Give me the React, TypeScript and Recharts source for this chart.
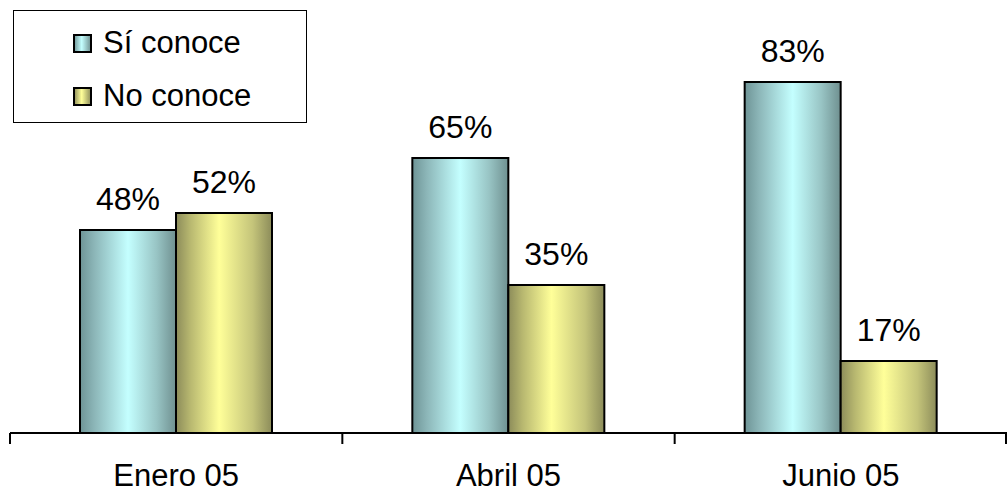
import { BarChart, Bar, XAxis, YAxis, LabelList } from "recharts";

const categories = ["Enero 05", "Abril 05", "Junio 05"];
const siConoce = [48, 65, 83];
const noConoce = [52, 35, 17];

const data = categories.map((name, i) => ({ name, si: siConoce[i], no: noConoce[i] }));

const FONT = "'Liberation Sans', Arial, sans-serif";

// category ticks: label under the center, tick marks at the band edges
const CategoryTick = (props: any) => {
    const { x, payload, index, visibleTicksCount } = props;
    const half = payload?.offset ?? 166;
    const count = visibleTicksCount ?? categories.length;
    const axisY = 433;
    return (
        <g>
            <line x1={x - half} y1={axisY} x2={x - half} y2={axisY + 11} stroke="#000" strokeWidth={2} />
            {index === count - 1 && (
                <line x1={x + half - 1} y1={axisY} x2={x + half - 1} y2={axisY + 11} stroke="#000" strokeWidth={2} />
            )}
            <text x={x} y={axisY + 53} textAnchor="middle" fontSize={31} fontFamily={FONT} fill="#000">
                {payload.value}
            </text>
        </g>
    );
};

const legendItems = [
    { label: "Sí conoce", fill: "url(#gCyanSm)", top: 17 },
    { label: "No conoce", fill: "url(#gYellowSm)", top: 70 },
];

const LegendBox = () => (
    <div
        style={{
            position: "absolute",
            left: 13,
            top: 10,
            width: 294,
            height: 113,
            border: "1.5px solid #000",
            background: "#fff",
            boxSizing: "border-box",
            fontFamily: FONT,
            fontSize: 31,
            color: "#000",
        }}
    >
        {legendItems.map((it) => (
            <div key={it.label} style={{ position: "absolute", left: 59, top: it.top, display: "flex", alignItems: "center" }}>
                <svg width={19} height={19} style={{ marginRight: 11 }}>
                    <rect x={1} y={1} width={17} height={17} fill={it.fill} stroke="#000" strokeWidth={2} />
                </svg>
                <span style={{ lineHeight: "30px" }}>{it.label}</span>
            </div>
        ))}
    </div>
);

export default function App() {
    return (
        <div style={{ position: "absolute", left: 0, top: 0, width: 1007, height: 493, background: "#fff" }}>
            <svg width={0} height={0} style={{ position: "absolute" }}>
                <defs>
                    <linearGradient id="gCyanSm" x1="0" y1="0" x2="1" y2="0">
                        <stop offset="0%" stopColor="#6e9496" />
                        <stop offset="45%" stopColor="#c4ffff" />
                        <stop offset="100%" stopColor="#6f9090" />
                    </linearGradient>
                    <linearGradient id="gYellowSm" x1="0" y1="0" x2="1" y2="0">
                        <stop offset="0%" stopColor="#8c8c5a" />
                        <stop offset="45%" stopColor="#ffff99" />
                        <stop offset="100%" stopColor="#8c8c5a" />
                    </linearGradient>
                </defs>
            </svg>
            <BarChart
                width={1007}
                height={493}
                data={data}
                margin={{ top: 10, right: 0, bottom: 0, left: 10 }}
                barCategoryGap={70}
                barGap={0}
            >
                <defs>
                    <linearGradient id="gCyan" x1="0" y1="0" x2="1" y2="0">
                        <stop offset="0%" stopColor="#6e9496" />
                        <stop offset="15%" stopColor="#8cb6b8" />
                        <stop offset="50%" stopColor="#c4ffff" />
                        <stop offset="80%" stopColor="#98c4c4" />
                        <stop offset="100%" stopColor="#6f9090" />
                    </linearGradient>
                    <linearGradient id="gYellow" x1="0" y1="0" x2="1" y2="0">
                        <stop offset="0%" stopColor="#8c8c5a" />
                        <stop offset="15%" stopColor="#b8b870" />
                        <stop offset="45%" stopColor="#ffff99" />
                        <stop offset="80%" stopColor="#c4c47a" />
                        <stop offset="100%" stopColor="#8c8c5a" />
                    </linearGradient>
                </defs>
                <XAxis
                    dataKey="name"
                    height={60}
                    tickLine={false}
                    axisLine={{ stroke: "#000", strokeWidth: 2 }}
                    tick={<CategoryTick />}
                    tickMargin={0}
                    interval={0}
                />
                <YAxis hide domain={[0, 100]} />
                <Bar dataKey="si" name="Sí conoce" fill="url(#gCyan)" stroke="#000" strokeWidth={2} isAnimationActive={false}>
                    <LabelList
                        dataKey="si"
                        position="top"
                        offset={20}
                        formatter={(v: any) => `${v}%`}
                        style={{ fontSize: 32, fontFamily: FONT, fill: "#000" }}
                    />
                </Bar>
                <Bar dataKey="no" name="No conoce" fill="url(#gYellow)" stroke="#000" strokeWidth={2} isAnimationActive={false}>
                    <LabelList
                        dataKey="no"
                        position="top"
                        offset={20}
                        formatter={(v: any) => `${v}%`}
                        style={{ fontSize: 32, fontFamily: FONT, fill: "#000" }}
                    />
                </Bar>
            </BarChart>
            <LegendBox />
        </div>
    );
}
